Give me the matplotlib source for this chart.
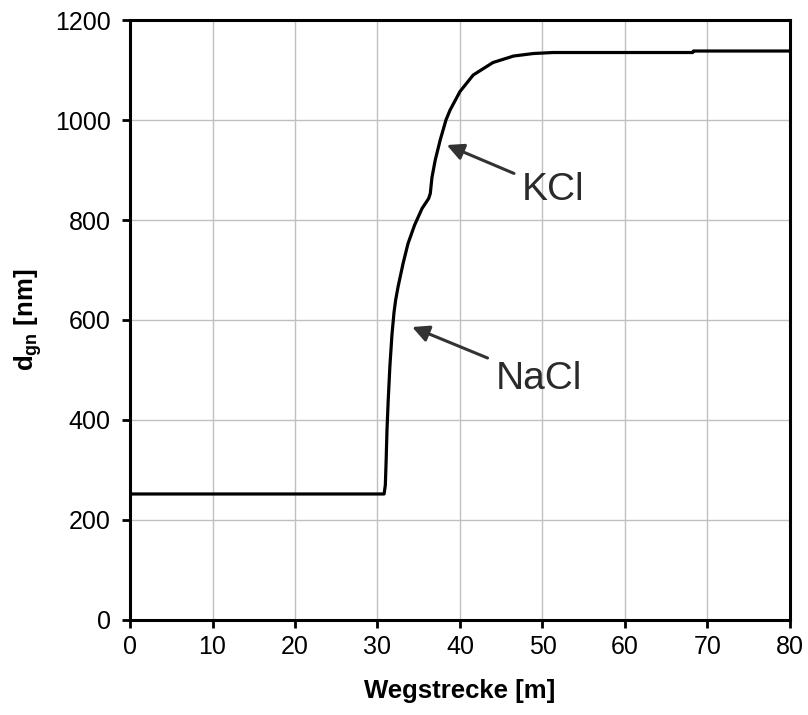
import matplotlib
matplotlib.use("Agg")
import matplotlib.pyplot as plt

plt.rcParams['font.family'] = ['Liberation Sans', 'DejaVu Sans']
plt.rcParams['mathtext.fontset'] = 'custom'
plt.rcParams['mathtext.rm'] = 'Liberation Sans'
plt.rcParams['mathtext.bf'] = 'Liberation Sans:bold'

# Particle diameter along the path
weg = [0, 10, 20, 30, 30.8, 30.95, 31.05, 31.15, 31.3, 31.5, 31.75, 32.0, 32.2,
       32.5, 33.1, 33.7, 34.5, 35.4, 36.2, 36.4, 36.6, 37.0, 37.6, 38.3, 38.8,
       40.0, 41.6, 44.0, 46.5, 48.9, 51.3, 68.2, 68.3, 80]
dgn = [252, 252, 252, 252, 252, 270, 320, 380, 440, 507, 570, 615, 640,
       667, 713, 753, 790, 823, 843, 853, 885, 920, 960, 1000, 1020,
       1057, 1090, 1115, 1128, 1133, 1135, 1135, 1138, 1138]

x_ticks = [0, 10, 20, 30, 40, 50, 60, 70, 80]
y_ticks = [0, 200, 400, 600, 800, 1000, 1200]

# Annotated points: (label, point on curve, label position)
ann_labels = ["KCl", "NaCl"]
ann_points = [(38.4, 950), (34.2, 586)]
ann_text = [(47.5, 860), (44.3, 482)]

fig = plt.figure(figsize=(8.08, 7.15), dpi=100)
ax = fig.add_axes([0.1609, 0.1329, 0.8168, 0.8391])

ax.plot(weg, dgn, color='black', linewidth=2.3, solid_joinstyle='round',
        solid_capstyle='butt')

ax.set_xlim(0, 80)
ax.set_ylim(0, 1200)
ax.set_xticks(x_ticks)
ax.set_yticks(y_ticks)
ax.grid(True, color='#c0c0c0', linewidth=1.0)
ax.set_axisbelow(True)
for sp in ax.spines.values():
    sp.set_linewidth(2.2)
    sp.set_color('black')
ax.tick_params(direction='out', length=6, width=2, labelsize=18)
ax.tick_params(axis='x', pad=5)
ax.tick_params(axis='y', pad=8)

ax.set_xlabel('Wegstrecke [m]', fontsize=18.5, fontweight='bold', labelpad=14)
ax.set_ylabel(r'$\mathbf{d_{gn}}$ [nm]', fontsize=18.5, fontweight='bold', labelpad=8)

for lab, pt, tp in zip(ann_labels, ann_points, ann_text):
    ax.annotate(lab, xy=pt, xytext=tp, fontsize=28, color='#2a2a2a',
                ha='left', va='center',
                arrowprops=dict(arrowstyle='-|>', color='#333333', lw=2.2,
                                mutation_scale=25, shrinkA=4, shrinkB=0))

fig.savefig('out.png', dpi=100)
